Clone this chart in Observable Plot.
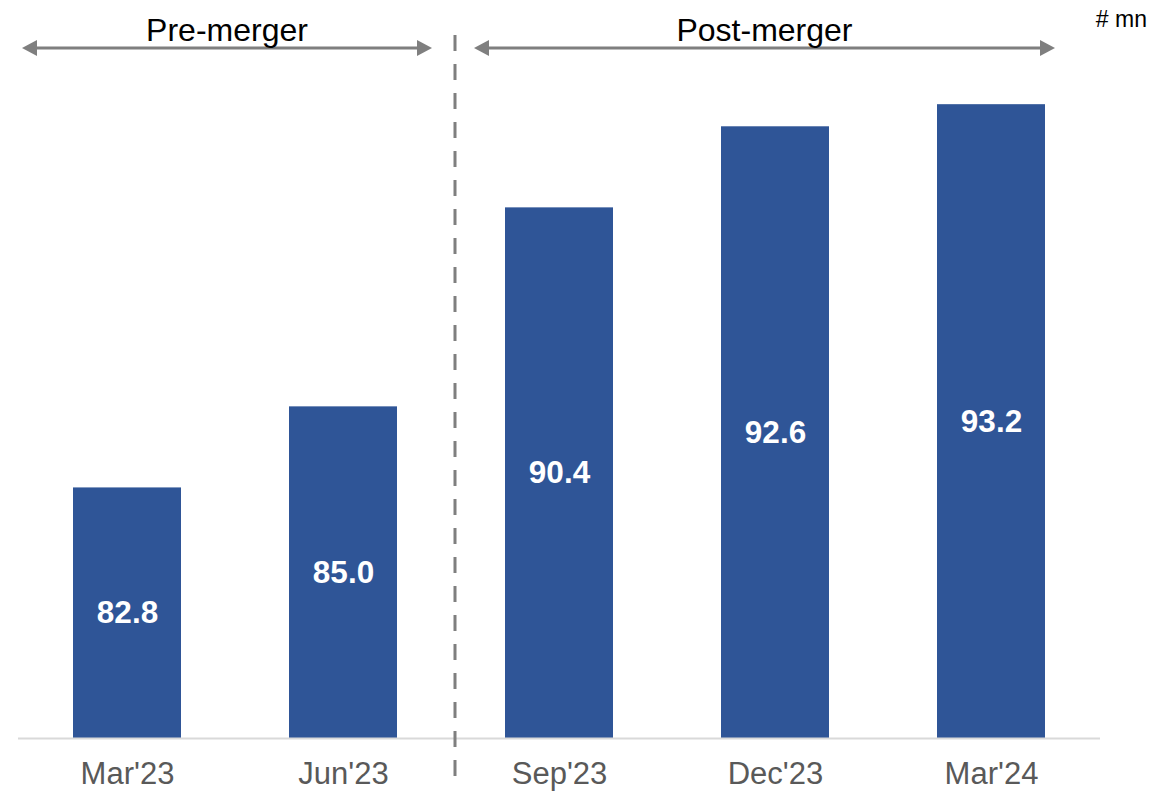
<!DOCTYPE html>
<html>
<head>
<meta charset="utf-8">
<script src="https://cdn.jsdelivr.net/npm/d3@7"></script>
<script src="https://cdn.jsdelivr.net/npm/@observablehq/plot@0.6"></script>
<style>
  html, body { margin: 0; padding: 0; background: #fff; overflow: hidden; }
  #chart svg { overflow: visible; display: block; }
</style>
</head>
<body>
<div id="chart"></div>
<script>
// ---- data ----
const periods = ["Mar'23", "Jun'23", "Sep'23", "Dec'23", "Mar'24"];
const values = [82.8, 85.0, 90.4, 92.6, 93.2];
const phaseLabels = ["Pre-merger", "Post-merger"];
const phaseFrom = ["Mar'23", "Sep'23"];
const phaseTo = ["Jun'23", "Mar'24"];
const unitLabel = "# mn";
const yBase = 76;
const yTop = 96;

const data = periods.map((p, i) => ({period: p, value: values[i]}));

const FONT = "'Liberation Sans', Arial, Helvetica, sans-serif";
const BAR = "#2F5597";
const GREY = "#7F7F7F";

const chart = Plot.plot({
  width: 1173,
  height: 791,
  marginLeft: 18,
  marginRight: 73,
  marginTop: 1,
  marginBottom: 53,
  style: {fontFamily: FONT, background: "#fff"},
  x: {domain: periods, paddingInner: 0.5, paddingOuter: 0.25, align: 0.5},
  y: {domain: [yBase, yTop], axis: null},
  marks: [
    Plot.barY(data, {x: "period", y1: yBase, y2: "value", fill: BAR}),
    Plot.ruleY([yBase], {stroke: "#D9D9D9", strokeWidth: 2}),
    Plot.axisX({tickSize: 0, tickPadding: 23, fontSize: 31, fill: "#595959", label: null}),
    Plot.text(data, {
      x: "period",
      y: d => (d.value + yBase) / 2,
      text: d => d.value.toFixed(1),
      fill: "white",
      fontSize: 31.5,
      fontWeight: "bold"
    })
  ]
});

document.getElementById("chart").appendChild(chart);

// ---- annotations placed through the chart's own x scale ----
const xs = chart.scale("x");
const bw = xs.bandwidth;
const xStart = p => xs.apply(p);
const xEnd = p => xs.apply(p) + bw;
const svg = d3.select(chart);
const g = svg.append("g");

// dashed divider between the two phases
const divX = (xEnd(phaseTo[0]) + xStart(phaseFrom[1])) / 2 + 4;
g.append("line")
  .attr("x1", divX).attr("x2", divX)
  .attr("y1", 35).attr("y2", 781)
  .attr("stroke", GREY).attr("stroke-width", 3)
  .attr("stroke-dasharray", "16 13");

// double-headed arrows with labels
const arrowY = 48;
const arrows = [
  {x1: xStart(phaseFrom[0]) - 51, x2: xEnd(phaseTo[0]) + 35, label: phaseLabels[0]},
  {x1: xStart(phaseFrom[1]) - 31, x2: xEnd(phaseTo[1]) + 10, label: phaseLabels[1]}
];
const headL = 15, headW = 8;
arrows.forEach(a => {
  g.append("line")
    .attr("x1", a.x1 + headL - 2).attr("x2", a.x2 - headL + 2)
    .attr("y1", arrowY).attr("y2", arrowY)
    .attr("stroke", GREY).attr("stroke-width", 3);
  g.append("path")
    .attr("d", `M${a.x1},${arrowY} L${a.x1 + headL},${arrowY - headW} L${a.x1 + headL},${arrowY + headW} Z`)
    .attr("fill", GREY);
  g.append("path")
    .attr("d", `M${a.x2},${arrowY} L${a.x2 - headL},${arrowY - headW} L${a.x2 - headL},${arrowY + headW} Z`)
    .attr("fill", GREY);
  g.append("text")
    .attr("x", (a.x1 + a.x2) / 2)
    .attr("y", 41)
    .attr("text-anchor", "middle")
    .attr("font-family", FONT)
    .attr("font-size", 32)
    .attr("fill", "#000")
    .text(a.label);
});

// unit label
g.append("text")
  .attr("x", 1147)
  .attr("y", 27)
  .attr("text-anchor", "end")
  .attr("font-family", FONT)
  .attr("font-size", 23)
  .attr("fill", "#000")
  .text(unitLabel);
</script>
</body>
</html>
